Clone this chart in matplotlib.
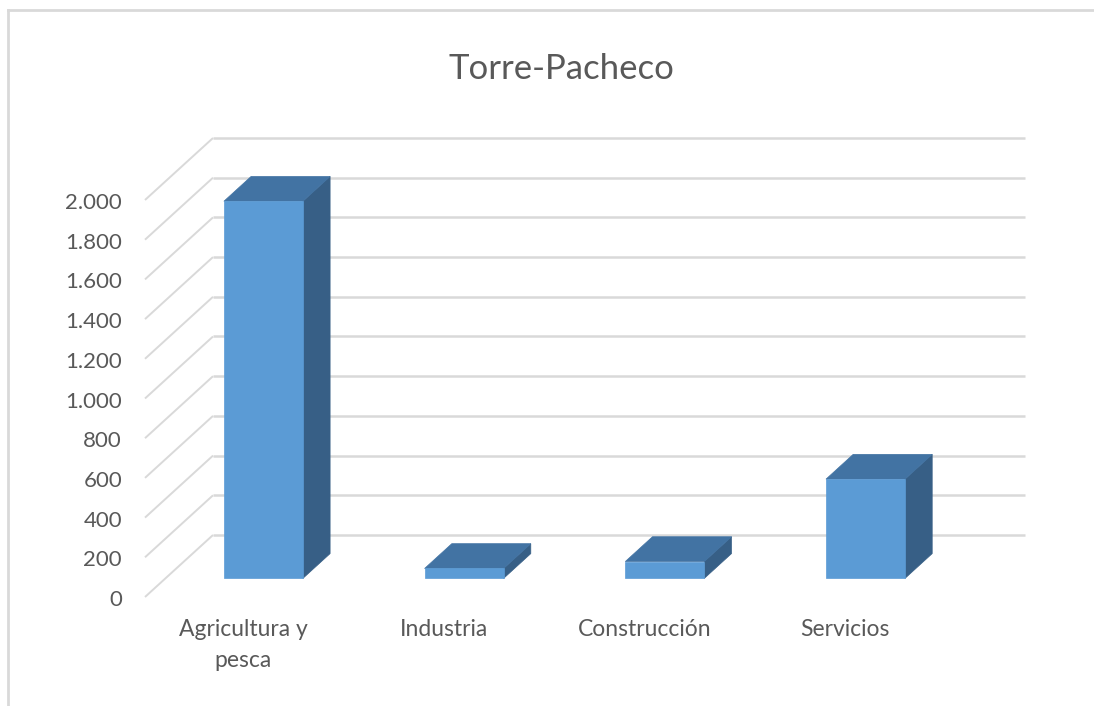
import matplotlib
matplotlib.use('Agg')
import matplotlib.pyplot as plt
from matplotlib.patches import Polygon
from matplotlib.lines import Line2D

# ---- data ----
categories = ['Agricultura y\npesca', 'Industria', 'Construcción', 'Servicios']
values = [1900, 50, 85, 500]
yticks = [0, 200, 400, 600, 800, 1000, 1200, 1400, 1600, 1800, 2000]
ytick_labels = ['0', '200', '400', '600', '800', '1.000', '1.200', '1.400',
                '1.600', '1.800', '2.000']
title = 'Torre-Pacheco'

# ---- layout / style ----
W, H = 1094, 706
FONT = ['Lato', 'DejaVu Sans']
TXT = '#595959'
GRID = '#D9D9D9'
FRONT = '#5B9BD5'
TOP = '#4273A3'
SIDE = '#375F86'

fig = plt.figure(figsize=(W / 100, H / 100), dpi=100)
fig.patch.set_facecolor('white')
ax = fig.add_axes([0, 0, 1, 1])

px_cat = 200.7            # pixels per category step
px_val = 397 / 2000       # pixels per value unit
x0_px, y0_px = 243, 597   # pixel position of category 0 / value 0 (front plane)
ax.set_xlim(-x0_px / px_cat, (W - x0_px) / px_cat)
ax.set_ylim(-(H - y0_px) / px_val, y0_px / px_val)
ax.axis('off')

DX = 68 / px_cat          # depth vector (full floor depth)
DY = 62 / px_val
xl = (145 - x0_px) / px_cat
xr = (1025 - x0_px) / px_cat

for v, lab in zip(yticks, ytick_labels):
    ax.plot([xl, xl + DX], [v, v + DY], color=GRID, lw=1.4, zorder=1,
            solid_capstyle='butt')
    ax.plot([xl + DX, xr], [v + DY, v + DY], color=GRID, lw=1.8, zorder=1,
            solid_capstyle='butt')
    ax.text(xl - 23 / px_cat, v - 3 / px_val, lab, ha='right', va='center',
            fontsize=16, color=TXT, family=FONT)

# ---- 3D-looking bars ----
f0, dd = 0.3, 0.4
bw = 79 / px_cat
for i, v in enumerate(values):
    xc = i + f0 * DX
    yb = f0 * DY
    ax.bar(xc, v, width=bw, bottom=yb, color=FRONT, edgecolor=FRONT,
           linewidth=0.5, zorder=5)
    xL, xR = xc - bw / 2, xc + bw / 2
    yT = yb + v
    ddx, ddy = dd * DX, dd * DY
    side = Polygon([(xR, yb), (xR, yT), (xR + ddx, yT + ddy), (xR + ddx, yb + ddy)],
                   closed=True, facecolor=SIDE, edgecolor=SIDE, lw=0.5, zorder=4)
    top = Polygon([(xL, yT), (xR, yT), (xR + ddx, yT + ddy), (xL + ddx, yT + ddy)],
                  closed=True, facecolor=TOP, edgecolor=TOP, lw=0.5, zorder=4)
    ax.add_patch(side)
    ax.add_patch(top)
    ax.text(i, (y0_px - 619) / px_val, categories[i], ha='center', va='top',
            fontsize=16.5, color=TXT, family=FONT, linespacing=1.6)

# ---- title ----
fig.text(561 / W, 1 - 79 / H, title, ha='center', va='baseline',
         fontsize=25, color=TXT, family=FONT)

# ---- chart border (partially cropped in reference) ----
fig.add_artist(Line2D([8 / W, 1], [1 - 10 / H, 1 - 10 / H], color=GRID, lw=2,
                      transform=fig.transFigure))
fig.add_artist(Line2D([8 / W, 8 / W], [0, 1 - 10 / H], color=GRID, lw=2,
                      transform=fig.transFigure))

fig.savefig('out.png', dpi=100, facecolor='white')
